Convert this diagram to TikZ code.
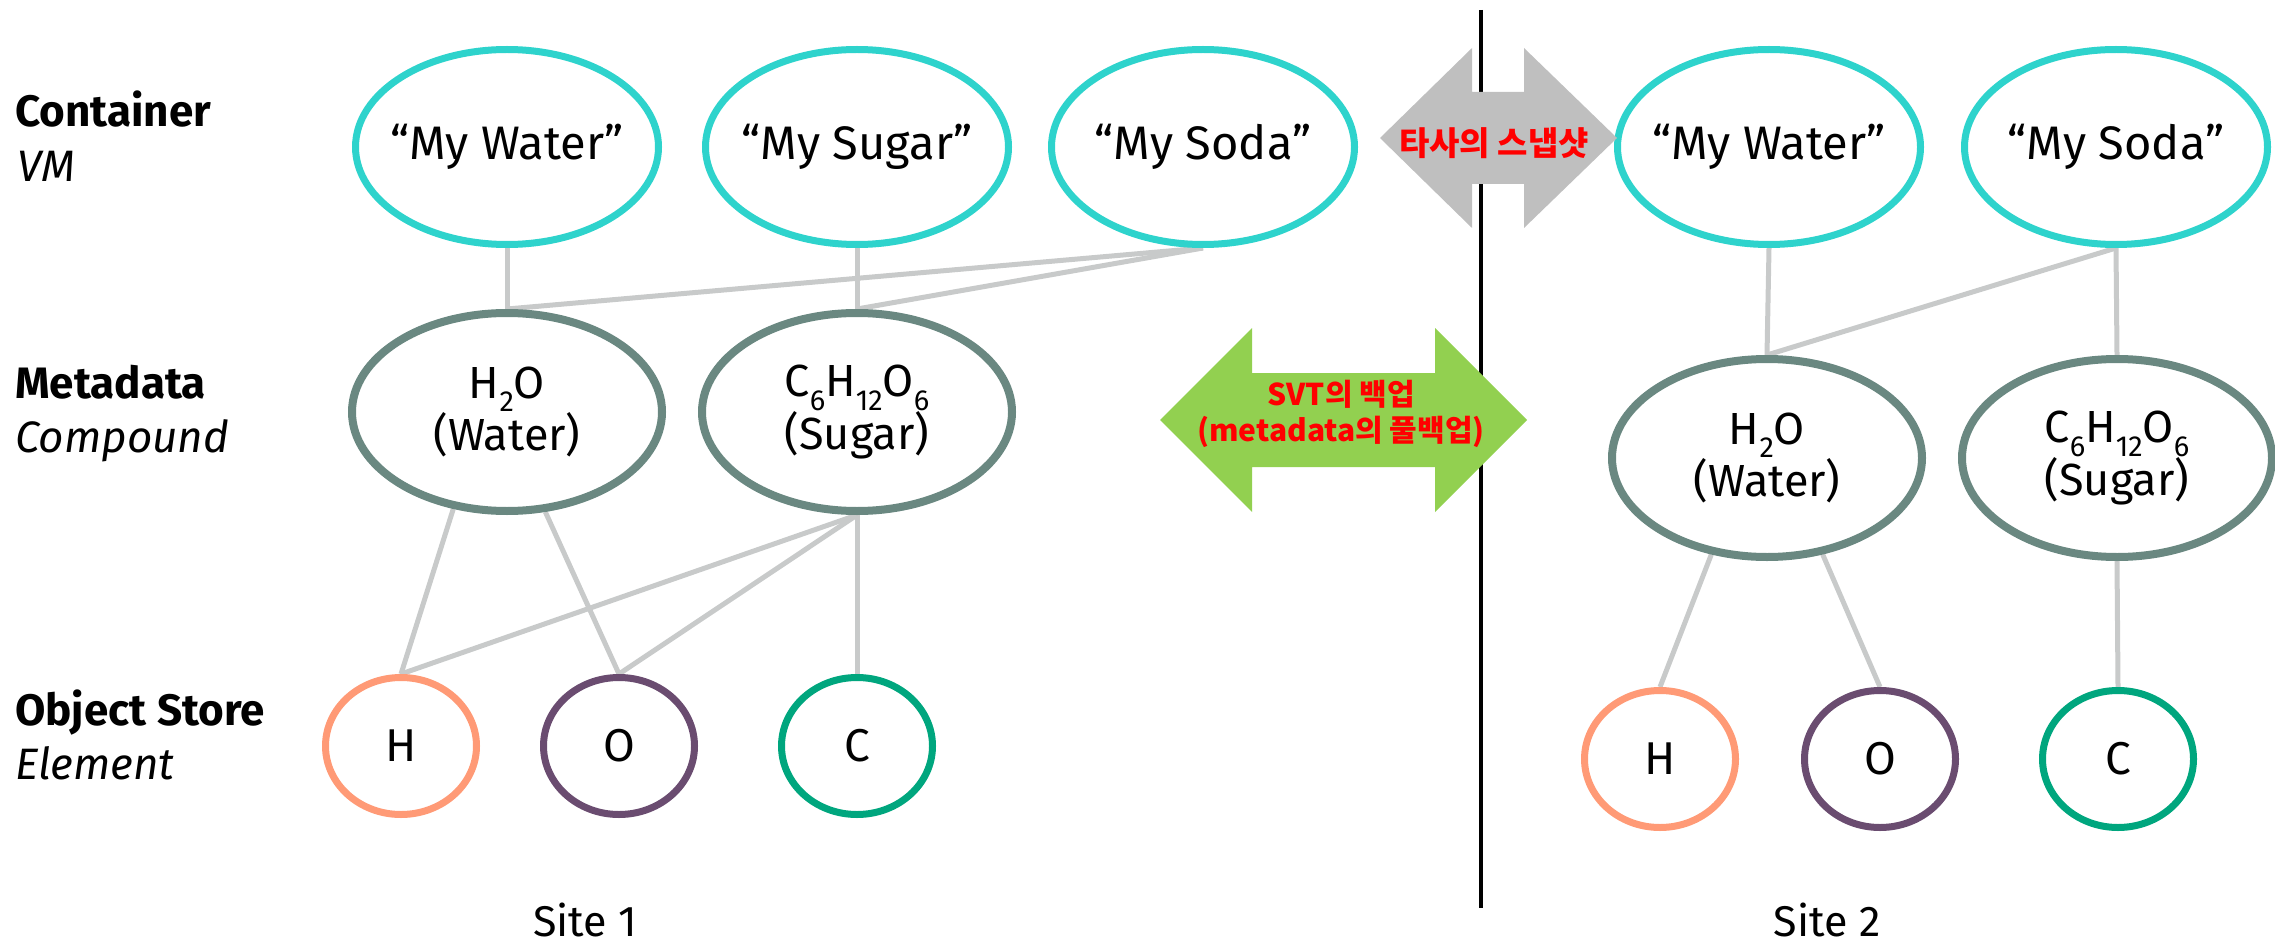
\documentclass[tikz,border=0pt]{standalone}
\usepackage{fontspec}
\setmainfont{Fira Sans}
\newfontfamily\kr{Noto Sans CJK KR}
\usetikzlibrary{shapes.geometric,backgrounds}
\definecolor{cy}{RGB}{46,211,204}
\definecolor{meta}{RGB}{106,136,129}
\definecolor{lk}{RGB}{200,202,202}
\definecolor{hcol}{RGB}{255,154,118}
\definecolor{ocol}{RGB}{106,76,112}
\definecolor{ccol}{RGB}{0,166,126}
\definecolor{arrgray}{RGB}{191,191,191}
\definecolor{arrgreen}{RGB}{146,208,80}
\newcommand\mysub[1]{\raisebox{-0.3em}{\fontsize{29}{29}\selectfont #1}}
\newcommand\nowd[1]{\makebox[0pt]{#1}}
\begin{document}
\begin{tikzpicture}[x=1pt,y=-1pt,
  vm/.style={ellipse, draw=cy, line width=7pt, fill=white, minimum width=303pt, minimum height=195pt, inner sep=0pt, font=\fontsize{47}{56}\selectfont},
  cmp/.style={ellipse, draw=meta, line width=8pt, fill=white, minimum width=310pt, minimum height=198pt, inner sep=0pt, align=center, font=\fontsize{45}{50}\selectfont},
  elem/.style={ellipse, line width=7pt, fill=white, minimum width=151pt, minimum height=137pt, inner sep=0pt, font=\fontsize{46}{50}\selectfont},
  link/.style={draw=lk, line width=5pt},
  lbl/.style={anchor=base west, inner sep=0pt, font=\fontsize{44}{50}\selectfont\bfseries},
  lblit/.style={anchor=base west, inner sep=0pt, font=\fontsize{44}{50}\selectfont\itshape},
  site/.style={anchor=base, inner sep=0pt, font=\fontsize{43}{50}\selectfont},
  krt/.style={text=red, align=center, inner sep=0pt}
]
\useasboundingbox (0,0) rectangle (2275,944);

% row labels
\node[lbl] (l1) at (15,127) {Container};
\node[lblit] (l1b) at (17,182) {VM};
\node[lbl] (l2) at (15,398) {Metadata};
\node[lblit] (l2b) at (15,452) {Compound};
\node[lbl] (l3) at (15,725) {Object Store};
\node[lblit] (l3b) at (15,779) {Element};

% site 1
\node[vm] (w1) at (507,147) {\nowd{“My Water”}};
\node[vm] (s1) at (857,147) {\nowd{“My Sugar”}};
\node[vm] (d1) at (1203,147) {\nowd{“My Soda”}};
\node[cmp] (h2o1) at (507,412) {H\mysub{2}O\\(Water)};
\node[cmp] (c61) at (857,412) {C\mysub{6}H\mysub{12}O\mysub{6}\\(Sugar)};
\node[elem, draw=hcol] (h1) at (401,746) {H};
\node[elem, draw=ocol] (o1) at (619,746) {O};
\node[elem, draw=ccol] (c1) at (857,746) {C};

% site 2
\node[vm] (w2) at (1769,147) {\nowd{“My Water”}};
\node[vm] (d2) at (2116,147) {\nowd{“My Soda”}};
\node[cmp] (h2o2) at (1767,458) {H\mysub{2}O\\(Water)};
\node[cmp] (c62) at (2117,458) {C\mysub{6}H\mysub{12}O\mysub{6}\\(Sugar)};
\node[elem, draw=hcol] (h2) at (1660,759) {H};
\node[elem, draw=ocol] (o2) at (1880,759) {O};
\node[elem, draw=ccol] (c2) at (2118,759) {C};

\begin{pgfonlayer}{background}
\draw[link] (w1.south) -- (h2o1.north);
\draw[link] (s1.south) -- (c61.north);
\draw[link] (d1.south) -- (h2o1.north);
\draw[link] (d1.south) -- (c61.north);
\draw[link] (h2o1.241) -- (h1.north);
\draw[link] (h2o1.291) -- (o1.north);
\draw[link] (c61.south) -- (h1.north);
\draw[link] (c61.south) -- (o1.north);
\draw[link] (c61.south) -- (c1.north);
\draw[link] (w2.south) -- (h2o2.north);
\draw[link] (d2.south) -- (h2o2.north);
\draw[link] (d2.south) -- (c62.north);
\draw[link] (h2o2.240) -- (h2.north);
\draw[link] (h2o2.300) -- (o2.north);
\draw[link] (c62.south) -- (c2.north);
\end{pgfonlayer}

% divider
\coordinate (vt) at (1481,10);
\coordinate (vb) at (1481,908);
\draw[line width=4.5pt, black] (vt) -- (vb);

% arrows
\fill[arrgray] (1380,138) -- (1472,48) -- (1472,92) -- (1524,92) -- (1524,48) -- (1617,138)
  -- (1524,228) -- (1524,184) -- (1472,184) -- (1472,228) -- cycle;
\node[krt, font=\kr\bfseries\fontsize{33}{38}\selectfont] (snap) at (1494,143) {타사의 스냅샷};

\fill[arrgreen] (1160,420) -- (1252,328) -- (1252,373) -- (1435,373) -- (1435,328) -- (1527,420)
  -- (1435,512) -- (1435,467) -- (1252,467) -- (1252,512) -- cycle;
\node[krt, font=\kr\bfseries\fontsize{30}{36}\selectfont] (svt) at (1341,414) {SVT의 백업\\(metadata의 풀백업)};

% site labels
\node[site] (site1) at (585,936) {Site 1};
\node[site] (site2) at (1827,936) {Site 2};
\end{tikzpicture}
\end{document}
